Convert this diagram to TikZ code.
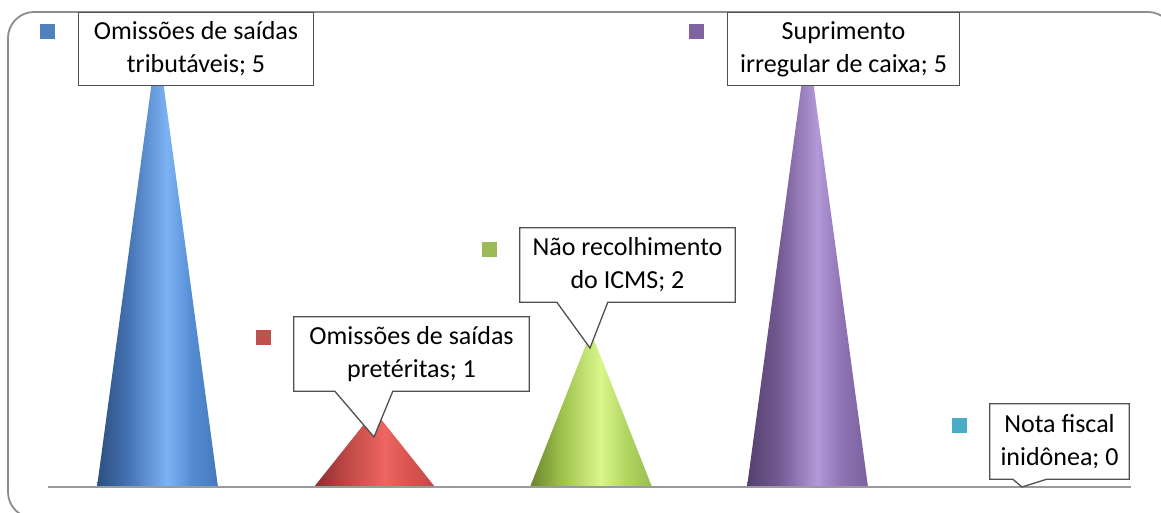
\documentclass[tikz,border=0pt]{standalone}
\usepackage{fontspec}
\setmainfont{Carlito}
\usetikzlibrary{calc}
\pgfdeclarelayer{back}
\pgfdeclarelayer{mid}
\pgfsetlayers{back,mid,main}

\definecolor{serA}{HTML}{4F81BD}
\definecolor{serB}{HTML}{C0504D}
\definecolor{serC}{HTML}{9BBB59}
\definecolor{serD}{HTML}{8064A2}
\definecolor{serE}{HTML}{4BACC6}
\definecolor{framegray}{HTML}{8C8C8C}
\definecolor{axisgray}{HTML}{9A9A9A}
\definecolor{boxgray}{HTML}{505050}

\pgfdeclarehorizontalshading{coneA}{100bp}{rgb(0bp)=(0.17,0.31,0.50); rgb(25bp)=(0.17,0.31,0.50); rgb(38bp)=(0.27,0.45,0.70); rgb(54bp)=(0.49,0.70,0.96); rgb(64bp)=(0.33,0.55,0.83); rgb(75bp)=(0.27,0.47,0.73); rgb(100bp)=(0.27,0.47,0.73)}
\pgfdeclarehorizontalshading{coneB}{100bp}{rgb(0bp)=(0.55,0.18,0.18); rgb(25bp)=(0.55,0.18,0.18); rgb(38bp)=(0.74,0.28,0.27); rgb(54bp)=(0.93,0.40,0.38); rgb(64bp)=(0.85,0.33,0.31); rgb(75bp)=(0.75,0.29,0.28); rgb(100bp)=(0.75,0.29,0.28)}
\pgfdeclarehorizontalshading{coneC}{100bp}{rgb(0bp)=(0.42,0.52,0.18); rgb(25bp)=(0.42,0.52,0.18); rgb(38bp)=(0.62,0.76,0.30); rgb(54bp)=(0.85,0.97,0.55); rgb(64bp)=(0.70,0.84,0.38); rgb(75bp)=(0.60,0.74,0.32); rgb(100bp)=(0.60,0.74,0.32)}
\pgfdeclarehorizontalshading{coneD}{100bp}{rgb(0bp)=(0.33,0.25,0.43); rgb(25bp)=(0.33,0.25,0.43); rgb(38bp)=(0.45,0.35,0.57); rgb(54bp)=(0.70,0.60,0.85); rgb(64bp)=(0.56,0.45,0.70); rgb(75bp)=(0.48,0.38,0.62); rgb(100bp)=(0.48,0.38,0.62)}

\tikzset{
  lbl/.style={draw=none, inner sep=0pt, align=center, font=\fontsize{26}{33}\selectfont, text=black},
  callout/.style={draw=boxgray, line width=1.3pt, fill=white, line join=miter},
  keysq/.style={draw=none, minimum size=15pt, inner sep=0pt},
}

\begin{document}
\begin{tikzpicture}[x=1pt, y=-1pt]
\useasboundingbox (0,0) rectangle (1161,512);

% frame
\begin{pgfonlayer}{back}
\draw[framegray, line width=1.8pt, rounded corners=26pt] (8,12) rectangle (1174,518);
% cones
\shade[shading=coneA] (97,487) -- (157.5,40) -- (218,487) -- cycle;
\shade[shading=coneB] (314,487) -- (374.5,411) -- (435,487) -- cycle;
\shade[shading=coneC] (530,487) -- (591,332) -- (652,487) -- cycle;
\shade[shading=coneD] (747,487) -- (807.5,40) -- (868,487) -- cycle;
% axis
\coordinate (axL) at (48,487);
\coordinate (axR) at (1131,487);
\draw[axisgray, line width=2pt] (axL) -- (axR);
\end{pgfonlayer}

% legend keys
\node[keysq, fill=serA] (kA) at (47.5,31.5) {};
\node[keysq, fill=serB] (kB) at (263.5,337.5) {};
\node[keysq, fill=serC] (kC) at (489.5,249) {};
\node[keysq, fill=serD] (kD) at (696.5,31.5) {};
\node[keysq, fill=serE] (kE) at (959.5,425.5) {};

% labels
\node[lbl, minimum width=234pt, minimum height=72pt] (lA) at (196,49) {Omissões de saídas\\tributáveis; 5};
\node[lbl, minimum width=235pt, minimum height=74pt] (lB) at (411.5,354) {Omissões de saídas\\pretéritas; 1};
\node[lbl, minimum width=215pt, minimum height=74pt] (lC) at (627.5,265) {Não recolhimento\\do ICMS; 2};
\node[lbl, minimum width=231pt, minimum height=72pt] (lD) at (843.5,49) {Suprimento\\irregular de caixa; 5};
\node[lbl, minimum width=139pt, minimum height=75pt] (lE) at (1059.5,441.5) {Nota fiscal\\inidônea; 0};

\coordinate (tB) at (374,437);
\coordinate (tC) at (590,348);
\coordinate (tE) at (1022,487);

\begin{pgfonlayer}{mid}
\draw[callout] (lA.north west) rectangle (lA.south east);
\draw[callout] (lD.north west) rectangle (lD.south east);
\draw[callout] (lB.north west) -- (lB.north east) -- (lB.south east)
  -- ($(lB.south west)+(99,0)$) -- (tB) -- ($(lB.south west)+(41,0)$) -- (lB.south west) -- cycle;
\draw[callout] (lC.north west) -- (lC.north east) -- (lC.south east)
  -- ($(lC.south west)+(88,0)$) -- (tC) -- ($(lC.south west)+(37,0)$) -- (lC.south west) -- cycle;
\draw[callout] (lE.north west) -- (lE.north east) -- (lE.south east)
  -- ($(lE.south west)+(57,0)$) -- (tE) -- ($(lE.south west)+(23,0)$) -- (lE.south west) -- cycle;
\end{pgfonlayer}
\end{tikzpicture}
\end{document}
